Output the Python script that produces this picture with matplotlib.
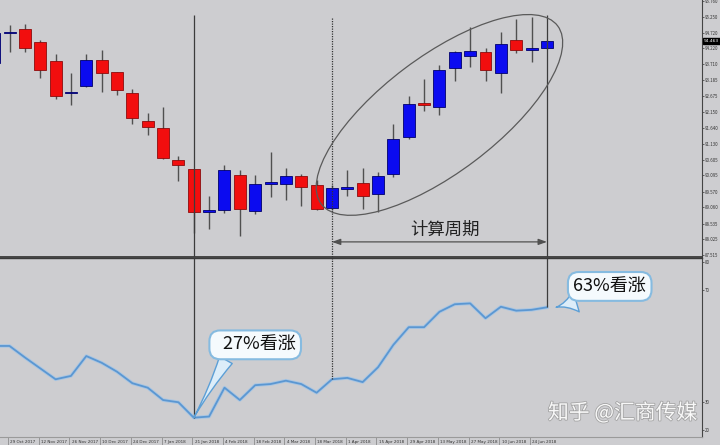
import numpy as np
import matplotlib.pyplot as plt
from matplotlib import transforms
from matplotlib.patches import Ellipse
import matplotlib.patheffects as pe

plt.rcParams['font.family'] = ['Noto Sans CJK SC', 'DejaVu Sans']

# weekly candles, index 0 is the bar cut off at the left edge
opens = [93.75, 94.72, 94.85, 94.43, 93.81, 92.77, 93.00, 93.84, 93.46, 92.77,
         91.86, 91.64, 90.60, 90.31, 88.90, 88.98, 90.11, 88.94, 89.82, 89.82,
         90.08, 89.79, 89.04, 89.66, 89.85, 89.50, 90.14, 91.35, 92.45, 92.32,
         93.59, 93.97, 94.10, 93.42, 94.49, 94.18, 94.23]
closes = [94.72, 94.76, 94.23, 93.52, 92.68, 92.81, 93.84, 93.42, 92.87, 91.96,
          91.67, 90.66, 90.44, 88.91, 88.99, 90.27, 89.01, 89.82, 89.88, 90.08,
          89.72, 89.01, 89.69, 89.72, 89.43, 90.08, 91.28, 92.42, 92.39, 93.52,
          94.10, 94.14, 93.52, 94.36, 94.17, 94.22, 94.463]
highs = [94.80, 94.98, 95.01, 94.49, 94.04, 93.42, 94.04, 94.17, 93.46, 92.90,
         92.12, 92.32, 90.73, 90.31, 89.43, 90.44, 90.27, 90.11, 90.86, 90.34,
         90.14, 89.95, 89.79, 90.27, 90.34, 90.21, 91.77, 92.68, 93.23, 93.68,
         94.14, 94.92, 94.23, 94.75, 95.18, 95.24, 94.50]
lows = [93.70, 94.10, 94.10, 93.26, 92.58, 92.38, 92.97, 92.81, 92.71, 91.77,
        91.41, 90.63, 89.92, 88.23, 88.36, 88.88, 88.13, 88.84, 89.40, 89.30,
        89.11, 88.98, 88.98, 89.43, 89.01, 88.91, 90.05, 91.28, 92.19, 92.06,
        93.16, 93.62, 93.16, 92.77, 94.07, 93.78, 94.20]

# sentiment (% bullish) in the lower window
bull_pct = [50.0, 50.0, 45.9, 42.0, 38.1, 39.3, 46.4, 44.0, 40.8, 36.7,
            35.1, 30.7, 29.9, 24.4, 24.8, 35.1, 30.7, 36.0, 36.4, 37.6,
            36.4, 33.3, 38.1, 38.6, 37.1, 42.4, 50.4, 56.7, 56.7, 62.2,
            64.9, 65.2, 59.9, 64.0, 62.6, 62.9, 63.8]

date_pos = list(range(1, 36, 2))
date_labels = ['29 Oct 2017', '12 Nov 2017', '26 Nov 2017', '10 Dec 2017',
               '24 Dec 2017', '7 Jan 2018', '21 Jan 2018', '4 Feb 2018',
               '18 Feb 2018', '4 Mar 2018', '18 Mar 2018', '1 Apr 2018',
               '15 Apr 2018', '29 Apr 2018', '13 May 2018', '27 May 2018',
               '10 Jun 2018', '24 Jun 2018']
price_ticks = [95.760, 95.250, 94.720, 94.220, 93.710, 93.185, 92.675, 92.150,
               91.640, 91.130, 90.605, 90.095, 89.570, 89.060, 88.535, 88.025,
               87.515]
osc_ticks = [80, 70, 30, 20]
last_price = 94.463

start_bar, mid_bar, end_bar = 13, 22, 36

bg = '#cdcdd0'
fig = plt.figure(figsize=(7.2, 4.45), dpi=100, facecolor=bg)
ax1 = fig.add_axes([0, 0.4225, 0.975, 0.5775], facecolor=bg)
ax2 = fig.add_axes([0, 0.018, 0.975, 0.4022], facecolor=bg)

p_lo, p_hi = 87.45, 95.79
ax1.set_ylim(p_lo, p_hi)
ax2.set_ylim(17.5, 81.4)
for ax in (ax1, ax2):
    ax.set_xlim(0.38, 46.1)
    ax.yaxis.tick_right()
    ax.tick_params(axis='y', length=1.5, width=0.5, labelsize=3.2, pad=0.8,
                   colors='#333333')
    ax.spines['left'].set_visible(False)
    ax.spines['right'].set_color('#444444')
    ax.spines['right'].set_linewidth(0.8)

ax1.spines['top'].set_visible(False)
ax1.spines['bottom'].set_color('#3a3a3a')
ax1.spines['bottom'].set_linewidth(1.3)
ax1.tick_params(axis='x', bottom=False, labelbottom=False)
ax1.set_yticks(price_ticks)
ax1.set_yticklabels(['%.3f' % v for v in price_ticks])

ax2.spines['top'].set_color('#3a3a3a')
ax2.spines['top'].set_linewidth(1.0)
ax2.spines['bottom'].set_color('#9a9a9a')
ax2.spines['bottom'].set_linewidth(0.8)
ax2.set_yticks(osc_ticks)
ax2.set_xticks([p - 0.1 for p in date_pos])
ax2.tick_params(axis='x', length=6, width=0.5, color='#808080', labelbottom=False)
date_tr = transforms.blended_transform_factory(ax2.transData, ax2.transAxes)
for p, d in zip(date_pos, date_labels):
    ax2.text(p + 0.05, -0.03, d, transform=date_tr, fontsize=3.0,
             color='#333333', ha='left', va='center', family='DejaVu Sans',
             clip_on=False)

# candles
x = np.arange(len(opens))
o = np.array(opens)
c = np.array(closes)
up = c >= o
body_col = np.where(up, '#0b0bf0', '#f20e0e')
edge_col = np.where(up, '#00006a', '#8c0c0c')
ax1.vlines(x, lows, highs, color='#505050', lw=1, zorder=2)
ax1.bar(x, np.abs(c - o), bottom=np.minimum(o, c), width=0.78,
        color=body_col, edgecolor=edge_col, lw=0.6, zorder=3)

# current price tag
tag_tr = transforms.blended_transform_factory(ax1.transAxes, ax1.transData)
ax1.text(1.003, last_price, '%.3f' % last_price, transform=tag_tr,
         fontsize=3.2, color='white', va='center', ha='left',
         family='DejaVu Sans',
         bbox=dict(boxstyle='square,pad=0.2', fc='black', ec='black'),
         clip_on=False)

# marker lines across both windows
ax1.vlines([start_bar, end_bar], 95.31, p_lo, color='#3c3c3c', lw=0.9, zorder=4)
ax1.vlines(mid_bar, 95.21, p_lo, color='#333333', lw=0.9,
           linestyles=(0, (1, 1)), zorder=4)
ax2.vlines([start_bar, end_bar], [bull_pct[start_bar], bull_pct[end_bar]], 81.4,
           color='#3c3c3c', lw=0.9, zorder=4)
ax2.vlines(mid_bar, bull_pct[mid_bar], 81.4, color='#333333', lw=0.9,
           linestyles=(0, (1, 1)), zorder=4)

# ellipse round the up-move
el_tr = fig.dpi_scale_trans + transforms.ScaledTranslation(29.0, 92.06, ax1.transData)
ax1.add_patch(Ellipse((0, 0), 2.96, 1.16, angle=37, transform=el_tr,
                      fill=False, ec='#5a5a5a', lw=0.9, zorder=5))

# period arrow + label
ax1.annotate('', xy=(mid_bar, 87.94), xytext=(end_bar, 87.94),
             arrowprops=dict(arrowstyle='<|-|>,head_length=0.5,head_width=0.18',
                             color='#505050', lw=0.9, shrinkA=0, shrinkB=0))
ax1.text(29.37, 88.33, '计算周期', fontsize=12.5, color='#222222',
         ha='center', va='center')

# sentiment line
ax2.plot(x, bull_pct, color='#5b97d2', lw=1.3, zorder=3,
         path_effects=[pe.Stroke(linewidth=2.6, foreground='#a9c6e3'), pe.Normal()])

box = dict(boxstyle='round,pad=0.3,rounding_size=0.6', fc='#f5fafd',
           ec='#86bbe0', lw=1.5)
ax2.annotate('  27%看涨', xy=(start_bar, bull_pct[start_bar]), xytext=(17.0, 50.4),
             ha='center', va='center', fontsize=13, color='#111111', bbox=box,
             zorder=6,
             arrowprops=dict(arrowstyle='wedge,tail_width=0.8,shrink_factor=0.3',
                             fc='#dcedf9', ec='#5c9fd6', lw=1,
                             relpos=(0.18, 0.0), shrinkA=0, shrinkB=0))
ax2.annotate('63%看涨', xy=(36.6, 63.8), xytext=(40.09, 71.25),
             ha='center', va='center', fontsize=13, color='#111111', bbox=box,
             zorder=6,
             arrowprops=dict(arrowstyle='wedge,tail_width=1.2,shrink_factor=0.3',
                             fc='#dcedf9', ec='#5c9fd6', lw=1,
                             relpos=(0.32, 0.0), shrinkA=0, shrinkB=0))

fig.text(0.865, 0.072, '知乎 @汇商传媒', fontsize=15, color='white', alpha=0.92,
         ha='center', va='center',
         path_effects=[pe.withStroke(linewidth=1.2, foreground='#a0a0a0')])

fig.savefig('out.png', dpi=100, facecolor=bg)
